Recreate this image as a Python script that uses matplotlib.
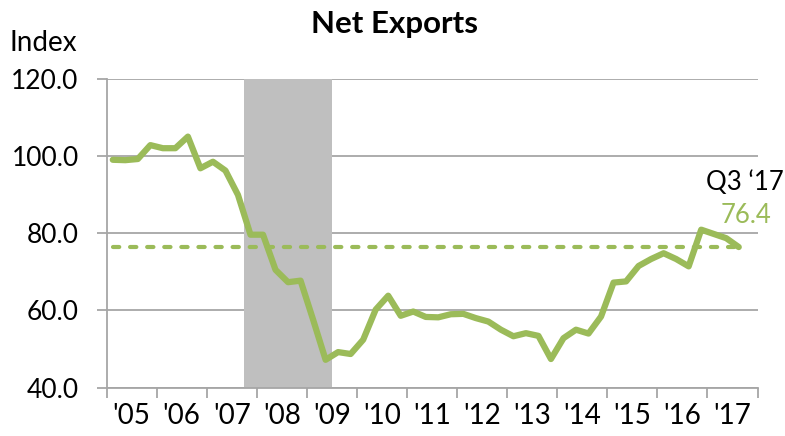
import matplotlib
matplotlib.use('Agg')
import matplotlib.pyplot as plt

# Quarterly net exports index, 2005 Q1 .. 2017 Q3
values = [99.0, 98.9, 99.2, 102.8, 102.0, 102.0, 105.0, 96.8, 98.5, 96.2,
          89.9, 79.6, 79.6, 70.5, 67.3, 67.7, 57.6, 47.2, 49.2, 48.7,
          52.4, 60.2, 63.8, 58.6, 59.7, 58.3, 58.2, 59.0, 59.1, 58.0,
          57.1, 55.0, 53.3, 54.1, 53.4, 47.4, 52.8, 55.0, 54.0, 58.4,
          67.2, 67.5, 71.5, 73.3, 74.8, 73.3, 71.4, 80.9, 79.8, 78.7,
          76.4]
year_labels = ["'05", "'06", "'07", "'08", "'09", "'10", "'11", "'12",
               "'13", "'14", "'15", "'16", "'17"]
latest_value = 76.4
latest_label = "Q3 \u201817"
recession = (11, 18)  # 2007 Q4 through 2009 Q2, in quarter slots

green = '#9BBB59'
grid_gray = '#A6A6A6'
plt.rcParams['font.family'] = ['Lato', 'DejaVu Sans']

fig = plt.figure(figsize=(7.85, 4.36), dpi=100)
ax = fig.add_axes([0.1357, 0.111, 0.8293, 0.7085])

x = [i + 0.5 for i in range(len(values))]

ax.axvspan(recession[0], recession[1], color='#BFBFBF', zorder=1, lw=0)
ax.plot(x, values, color=green, lw=4.5, zorder=3, solid_joinstyle='round',
        solid_capstyle='round')
ax.plot([x[0], x[-1]], [latest_value, latest_value], color=green, lw=3,
        ls=(0, (1.5, 2.6)), dash_capstyle='round', zorder=2)

ax.set_xlim(0, 4 * len(year_labels))
ax.set_ylim(40, 120)
ax.set_yticks([40, 60, 80, 100, 120])
ax.set_yticklabels(['%.1f' % v for v in [40, 60, 80, 100, 120]], fontsize=19)
ax.yaxis.grid(True, color=grid_gray, lw=1.3, zorder=0)
ax.set_axisbelow(True)

ax.set_xticks(range(0, 4 * len(year_labels) + 1, 4))
ax.set_xticklabels([])
ax.set_xticks([4 * i + 2 for i in range(len(year_labels))], minor=True)
ax.set_xticklabels(year_labels, minor=True, fontsize=20)
ax.tick_params(axis='x', which='major', length=7, width=1.3, color=grid_gray, direction='out')
ax.tick_params(axis='x', which='minor', length=0, pad=11)
ax.tick_params(axis='y', length=7, width=1.3, color=grid_gray, pad=13)

for side in ['top', 'right']:
    ax.spines[side].set_visible(False)
for side in ['left', 'bottom']:
    ax.spines[side].set_color(grid_gray)
    ax.spines[side].set_linewidth(1.3)

fig.text(0.503, 0.945, 'Net Exports', ha='center', va='center', fontsize=22.5,
         fontweight='bold')
fig.text(0.012, 0.902, 'Index', ha='left', va='center', fontsize=20)
ax.text(51.0, 93.0, latest_label, ha='center', va='center', fontsize=18.5,
        color='black', clip_on=False)
ax.text(51.1, 84.5, '%.1f' % latest_value, ha='center', va='center', fontsize=18.5,
        color=green, clip_on=False)

fig.savefig('out.png', dpi=100)
